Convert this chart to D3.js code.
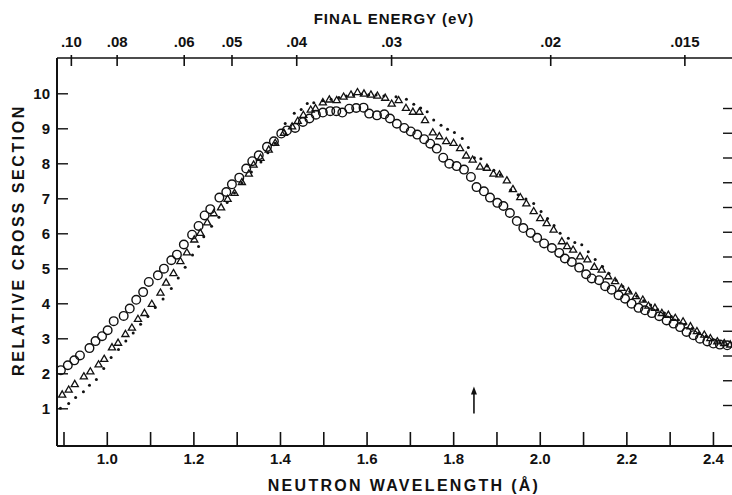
<!DOCTYPE html>
<html>
<head>
<meta charset="utf-8">
<script src="https://cdn.jsdelivr.net/npm/d3@7"></script>
<style>
  body { margin: 0; background: #fff; }
  text { font-family: "Liberation Sans", Arial, sans-serif; font-weight: bold; fill: #111; }
</style>
</head>
<body>
<div id="chart"></div>
<script>
// wavelength (Å) and relative cross section
// open circles
var circLam = [0.894,0.910,0.925,0.938,0.960,0.974,0.989,1.002,1.016,1.039,
  1.053,1.068,1.084,1.097,1.118,1.132,1.149,1.162,1.178,1.197,
  1.212,1.226,1.239,1.260,1.276,1.289,1.306,1.322,1.336,1.351,
  1.370,1.386,1.403,1.416,1.435,1.453,1.468,1.483,1.499,1.516,
  1.530,1.544,1.560,1.576,1.593,1.606,1.624,1.641,1.654,1.670,
  1.687,1.702,1.717,1.733,1.747,1.762,1.777,1.791,1.808,1.825,
  1.841,1.854,1.871,1.885,1.902,1.916,1.931,1.947,1.962,1.979,
  1.994,2.010,2.028,2.045,2.058,2.074,2.091,2.107,2.120,2.137,
  2.151,2.166,2.182,2.197,2.212,2.228,2.243,2.259,2.276,2.293,
  2.309,2.324,2.339,2.355,2.370,2.387,2.401,2.416,2.433];
var circVal = [2.09,2.23,2.37,2.51,2.72,2.92,3.06,3.23,3.49,3.64,
  3.85,4.10,4.32,4.61,4.80,4.99,5.23,5.39,5.68,5.96,
  6.21,6.51,6.69,7.02,7.18,7.40,7.59,7.85,8.06,8.23,
  8.47,8.63,8.85,8.94,9.01,9.18,9.28,9.39,9.45,9.49,
  9.49,9.45,9.56,9.58,9.59,9.42,9.37,9.40,9.28,9.13,
  9.01,8.91,8.82,8.69,8.56,8.42,8.16,7.99,7.92,7.82,
  7.61,7.32,7.20,7.02,6.87,6.78,6.58,6.35,6.15,6.01,
  5.87,5.71,5.58,5.44,5.28,5.18,5.02,4.83,4.71,4.66,
  4.49,4.39,4.23,4.13,3.99,3.87,3.80,3.72,3.63,3.51,
  3.42,3.32,3.18,3.09,2.99,2.91,2.85,2.82,2.80];

// open triangles
var triLam = [0.897,0.912,0.926,0.947,0.962,0.981,0.994,1.012,1.026,1.043,
  1.058,1.072,1.087,1.104,1.124,1.137,1.154,1.170,1.185,1.202,
  1.216,1.232,1.247,1.264,1.279,1.295,1.312,1.328,1.339,1.355,
  1.374,1.389,1.409,1.428,1.441,1.454,1.471,1.482,1.499,1.514,
  1.531,1.547,1.564,1.579,1.594,1.610,1.625,1.643,1.658,1.674,
  1.691,1.707,1.722,1.735,1.753,1.768,1.784,1.801,1.816,1.830,
  1.845,1.862,1.878,1.893,1.907,1.924,1.938,1.955,1.969,1.986,
  2.001,2.016,2.032,2.051,2.063,2.077,2.093,2.110,2.126,2.143,
  2.158,2.174,2.189,2.205,2.222,2.238,2.251,2.266,2.282,2.297,
  2.313,2.331,2.348,2.363,2.380,2.394,2.410,2.426,2.440];
var triVal = [1.38,1.52,1.68,1.90,2.04,2.24,2.40,2.73,2.86,3.11,
  3.29,3.54,3.71,3.97,4.29,4.58,4.85,5.19,5.44,5.81,
  6.00,6.30,6.56,6.73,6.97,7.14,7.45,7.69,7.95,8.14,
  8.38,8.57,8.86,9.04,9.20,9.37,9.52,9.56,9.73,9.81,
  9.79,9.89,9.95,10.02,9.98,9.95,9.92,9.86,9.69,9.79,
  9.57,9.46,9.46,9.22,8.87,8.76,8.62,8.57,8.42,8.21,
  8.09,7.89,7.86,7.69,7.67,7.50,7.25,7.02,6.84,6.62,
  6.42,6.28,6.09,5.76,5.62,5.52,5.33,5.24,5.03,4.95,
  4.76,4.62,4.43,4.33,4.19,4.09,3.92,3.86,3.71,3.66,
  3.57,3.47,3.33,3.19,3.09,2.99,2.90,2.85,2.81];

// small dots
var dotLam = [0.893,0.912,0.928,0.946,0.960,0.976,0.993,1.010,1.027,1.044,
  1.061,1.078,1.095,1.112,1.130,1.149,1.165,1.181,1.198,1.212,
  1.224,1.242,1.259,1.278,1.295,1.312,1.334,1.356,1.372,1.389,
  1.412,1.433,1.449,1.463,1.478,1.499,1.518,1.536,1.553,1.570,
  1.588,1.605,1.622,1.640,1.668,1.692,1.709,1.725,1.740,1.755,
  1.772,1.787,1.803,1.821,1.835,1.849,1.864,1.879,1.894,1.909,
  1.933,1.950,1.968,1.986,2.003,2.018,2.033,2.047,2.066,2.081,
  2.097,2.112,2.128,2.145,2.160,2.176,2.192,2.208,2.224,2.240,
  2.256,2.272,2.288,2.304,2.320,2.336,2.352,2.368,2.384,2.400,
  2.416,2.432];
var dotVal = [1.00,1.14,1.31,1.47,1.66,1.82,2.14,2.45,2.68,2.92,
  3.15,3.40,3.62,3.88,4.12,4.42,4.72,5.03,5.38,5.62,
  5.90,6.20,6.46,6.88,7.15,7.43,7.75,8.04,8.30,8.57,
  9.14,9.43,9.54,9.71,9.73,9.79,9.83,9.88,9.92,9.95,
  9.97,9.96,9.95,9.92,9.90,9.83,9.69,9.58,9.47,9.24,
  9.09,8.97,8.88,8.71,8.45,8.16,8.13,7.92,7.80,7.67,
  7.24,7.10,6.98,6.85,6.62,6.42,6.22,6.00,5.86,5.74,
  5.67,5.47,5.25,5.05,4.85,4.66,4.48,4.34,4.20,4.07,
  3.95,3.82,3.72,3.62,3.52,3.40,3.28,3.16,3.06,2.96,
  2.88,2.82];

// axis ticks and labels
var lamTicks = [0.9,1.0,1.1,1.2,1.3,1.4,1.5,1.6,1.7,1.8,1.9,2.0,2.1,2.2,2.3,2.4];
var lamLabels = {"1.0":"1.0","1.2":"1.2","1.4":"1.4","1.6":"1.6","1.8":"1.8","2.0":"2.0","2.2":"2.2","2.4":"2.4"};
var csTicks = [1,2,3,4,5,6,7,8,9,10];
var energyTicks = [0.10, 0.08, 0.06, 0.05, 0.04, 0.03, 0.02, 0.015];
var energyLabels = [".10", ".08", ".06", ".05", ".04", ".03", ".02", ".015"];
var rightTicks = [0,1,2,3,4,5,6,7,8,9,10,11,12];
var arrowLam = 1.848, arrowFrom = 0.85, arrowTo = 1.62;

var width = 732, height = 495;
var left = 57, top_ = 58, bottom = 446;

var svg = d3.select("#chart").append("svg")
  .attr("width", width)
  .attr("height", height)
  .style("background", "#fff");

var x = d3.scaleLinear().domain([0.885, 2.444]).range([left, width]);
var y = d3.scaleLinear().domain([0, 11]).range([443.3, top_ + 0.3]);
// top axis: E = h^2/(2 m lambda^2), so position goes as E^-1/2
var xe = d3.scalePow().exponent(-0.5).domain([0.10, 0.015]).range([x(0.917), x(2.334)]);
var yr = d3.scaleLinear().domain([0, 12]).range([405, 108]);

// frame
svg.append("line").attr("x1", left).attr("x2", left).attr("y1", top_).attr("y2", bottom)
  .attr("stroke", "#111").attr("stroke-width", 2);
svg.append("line").attr("x1", left).attr("x2", width).attr("y1", top_).attr("y2", top_)
  .attr("stroke", "#111").attr("stroke-width", 1.6);
svg.append("line").attr("x1", left).attr("x2", width).attr("y1", bottom).attr("y2", bottom)
  .attr("stroke", "#111").attr("stroke-width", 2);

// bottom axis
var gx = svg.append("g")
  .attr("transform", "translate(0," + bottom + ")")
  .call(d3.axisBottom(x).tickValues(lamTicks)
    .tickFormat(function(d) { return lamLabels[d.toFixed(1)] || ""; })
    .tickSizeInner(-14).tickSizeOuter(0).tickPadding(7));
gx.select(".domain").remove();
gx.selectAll("line").attr("stroke", "#111").attr("stroke-width", 1.6);
gx.selectAll("text").style("font-size", "15px").attr("fill", "#111");

// left axis
var gy = svg.append("g")
  .attr("transform", "translate(" + left + ",0)")
  .call(d3.axisLeft(y).tickValues(csTicks).tickFormat(d3.format("d"))
    .tickSizeInner(-11).tickSizeOuter(0).tickPadding(7));
gy.select(".domain").remove();
gy.selectAll("line").attr("stroke", "#111").attr("stroke-width", 1.4);
gy.selectAll("text").style("font-size", "15px").attr("fill", "#111");

// top axis (final energy)
var gt = svg.append("g")
  .attr("transform", "translate(0," + top_ + ")")
  .call(d3.axisTop(xe).tickValues(energyTicks)
    .tickFormat(function(d, i) { return energyLabels[i]; })
    .tickSizeInner(3).tickSizeOuter(0).tickPadding(8));
gt.select(".domain").remove();
gt.selectAll(".tick").append("line").attr("y1", 0).attr("y2", 8);
gt.selectAll("line").attr("stroke", "#111").attr("stroke-width", 1.6);
gt.selectAll("text").style("font-size", "15px").attr("fill", "#111");

// right side ticks
var gr = svg.append("g")
  .attr("transform", "translate(" + width + ",0)")
  .call(d3.axisLeft(yr).tickValues(rightTicks).tickFormat("")
    .tickSizeInner(9).tickSizeOuter(0));
gr.select(".domain").remove();
gr.selectAll("line").attr("stroke", "#111").attr("stroke-width", 1.4);

// titles
svg.append("text")
  .attr("x", 394).attr("y", 24)
  .attr("text-anchor", "middle")
  .style("font-size", "15px")
  .style("letter-spacing", "1px")
  .text("FINAL ENERGY (eV)");

svg.append("text")
  .attr("x", 404).attr("y", 491)
  .attr("text-anchor", "middle")
  .style("font-size", "16px")
  .style("letter-spacing", "2.3px")
  .text("NEUTRON WAVELENGTH (Å)");

svg.append("text")
  .attr("transform", "translate(24,240)rotate(-90)")
  .attr("text-anchor", "middle")
  .style("font-size", "16px")
  .style("letter-spacing", "2.6px")
  .text("RELATIVE CROSS SECTION");

// data
var circles = d3.zip(circLam, circVal);
var tris = d3.zip(triLam, triVal);
var dots = d3.zip(dotLam, dotVal);

svg.append("g").selectAll("circle")
  .data(dots).enter().append("circle")
  .attr("cx", function(d) { return x(d[0]); })
  .attr("cy", function(d) { return y(d[1]); })
  .attr("r", 1.5)
  .attr("fill", "#111");

svg.append("g").selectAll("path")
  .data(tris).enter().append("path")
  .attr("d", d3.symbol(d3.symbolTriangle, 22))
  .attr("transform", function(d) { return "translate(" + x(d[0]) + "," + y(d[1]) + ")"; })
  .attr("fill", "none")
  .attr("stroke", "#111")
  .attr("stroke-width", 1.3);

svg.append("g").selectAll("circle")
  .data(circles).enter().append("circle")
  .attr("cx", function(d) { return x(d[0]); })
  .attr("cy", function(d) { return y(d[1]); })
  .attr("r", 4.3)
  .attr("fill", "none")
  .attr("stroke", "#111")
  .attr("stroke-width", 1.4);

// arrow
var ax = x(arrowLam);
svg.append("line")
  .attr("x1", ax).attr("x2", ax)
  .attr("y1", y(arrowFrom)).attr("y2", y(arrowTo) + 6)
  .attr("stroke", "#111").attr("stroke-width", 1.6);
svg.append("path")
  .attr("d", "M" + ax + "," + y(arrowTo) + "l-3,8h6z")
  .attr("fill", "#111");
</script>
</body>
</html>
